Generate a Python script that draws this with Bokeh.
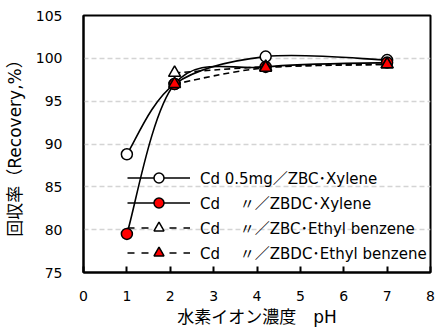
from bokeh.plotting import figure
from bokeh.models import Legend, LegendItem, FixedTicker, Range1d
from bokeh.embed import file_html
from bokeh.resources import INLINE

# ---- data ----
ph_xylene = [1.0, 2.1, 4.2, 7.0]
zbc_xylene = [88.8, 97.0, 100.2, 99.8]
zbdc_xylene = [79.5, 97.0, 99.0, 99.5]
ph_eb = [2.1, 4.2, 7.0]
zbc_eb = [98.3, 99.0, 99.3]
zbdc_eb = [97.0, 98.9, 99.3]

labels = [
    "Cd 0.5mg／ZBC･Xylene",
    "Cd　 〃／ZBDC･Xylene",
    "Cd　 〃／ZBC･Ethyl benzene",
    "Cd　 〃／ZBDC･Ethyl benzene",
]
x_ticks = [0, 1, 2, 3, 4, 5, 6, 7, 8]
y_ticks = [75, 80, 85, 90, 95, 100, 105]

FONT = "'DejaVu Sans', 'Noto Sans CJK JP'"


def smooth_segments(xs, ys):
    """Cubic Bezier control points for an Excel-like smoothed line."""
    n = len(xs)
    segs = {k: [] for k in ("x0", "y0", "x1", "y1", "cx0", "cy0", "cx1", "cy1")}
    for i in range(n - 1):
        p0 = (xs[max(i - 1, 0)], ys[max(i - 1, 0)])
        p1 = (xs[i], ys[i])
        p2 = (xs[i + 1], ys[i + 1])
        p3 = (xs[min(i + 2, n - 1)], ys[min(i + 2, n - 1)])
        segs["x0"].append(p1[0]); segs["y0"].append(p1[1])
        segs["x1"].append(p2[0]); segs["y1"].append(p2[1])
        segs["cx0"].append(p1[0] + (p2[0] - p0[0]) / 6)
        segs["cy0"].append(p1[1] + (p2[1] - p0[1]) / 6)
        segs["cx1"].append(p2[0] - (p3[0] - p1[0]) / 6)
        segs["cy1"].append(p2[1] - (p3[1] - p1[1]) / 6)
    return segs


p = figure(width=435, height=334, output_backend="svg", toolbar_location=None,
           x_range=Range1d(0, 8), y_range=Range1d(75, 105),
           min_border_left=83, min_border_right=5, min_border_top=15,
           min_border_bottom=62)

p.outline_line_color = "black"
p.outline_line_width = 2
p.background_fill_color = "white"
p.border_fill_color = "white"

p.xgrid.grid_line_color = None
p.ygrid.grid_line_color = "#d4d4d4"
p.ygrid.grid_line_dash = "5 3"
p.ygrid.grid_line_width = 1.5

for ax in (p.xaxis[0], p.yaxis[0]):
    ax.axis_line_color = "black"
    ax.axis_line_width = 2
    ax.major_label_text_font = FONT
    ax.major_label_text_font_size = "14px"
    ax.major_label_text_color = "black"
    ax.minor_tick_line_color = None
    ax.axis_label_text_font = FONT
    ax.axis_label_text_font_size = "17px"
    ax.axis_label_text_font_style = "normal"
    ax.axis_label_text_color = "black"

p.xaxis.ticker = FixedTicker(ticks=x_ticks)
p.yaxis.ticker = FixedTicker(ticks=y_ticks)
p.xaxis.major_tick_in = 6
p.xaxis.major_tick_out = 0
p.xaxis.major_tick_line_width = 2
p.xaxis.major_label_standoff = 18
p.yaxis.major_tick_in = 0
p.yaxis.major_tick_out = 0
p.yaxis.major_label_standoff = 21
p.xaxis.axis_label = "水素イオン濃度　pH"
p.yaxis.axis_label = "回収率（Recovery,%）"
p.xaxis.axis_label_standoff = 3
p.yaxis.axis_label_standoff = 8

series = [
    (ph_xylene, zbc_xylene, "solid", "circle", "white"),
    (ph_xylene, zbdc_xylene, "solid", "circle", "red"),
    (ph_eb, zbc_eb, "6 4", "triangle", "white"),
    (ph_eb, zbdc_eb, "6 4", "triangle", "red"),
]

items = []
for (xs, ys, dash, marker, fill), lab in zip(series, labels):
    segs = smooth_segments(xs, ys)
    p.bezier(source=segs, x0="x0", y0="y0", x1="x1", y1="y1",
             cx0="cx0", cy0="cy0", cx1="cx1", cy1="cy1",
             line_color="black", line_width=1.6, line_dash=dash)
    # one-point line (not drawn in the plot) used for the legend's line sample
    leg_line = p.line(x=[float("nan")], y=[float("nan")], line_color="black",
                      line_width=1.6, line_dash="7 7" if dash != "solid" else dash)
    sc = p.scatter(xs, ys, marker=marker, size=11 if marker == "circle" else 12,
                   fill_color=fill, line_color="black", line_width=1.5)
    items.append(LegendItem(label=lab, renderers=[leg_line, sc]))

legend = Legend(items=items, location=(44, 7), glyph_width=63, glyph_height=25,
                label_height=25, spacing=0, padding=0, margin=0,
                label_standoff=10, label_text_font=FONT,
                label_text_font_size="15px", label_text_color="black",
                background_fill_alpha=0, border_line_color=None)
p.add_layout(legend)

open("out.html", "w").write(file_html(p, INLINE))
